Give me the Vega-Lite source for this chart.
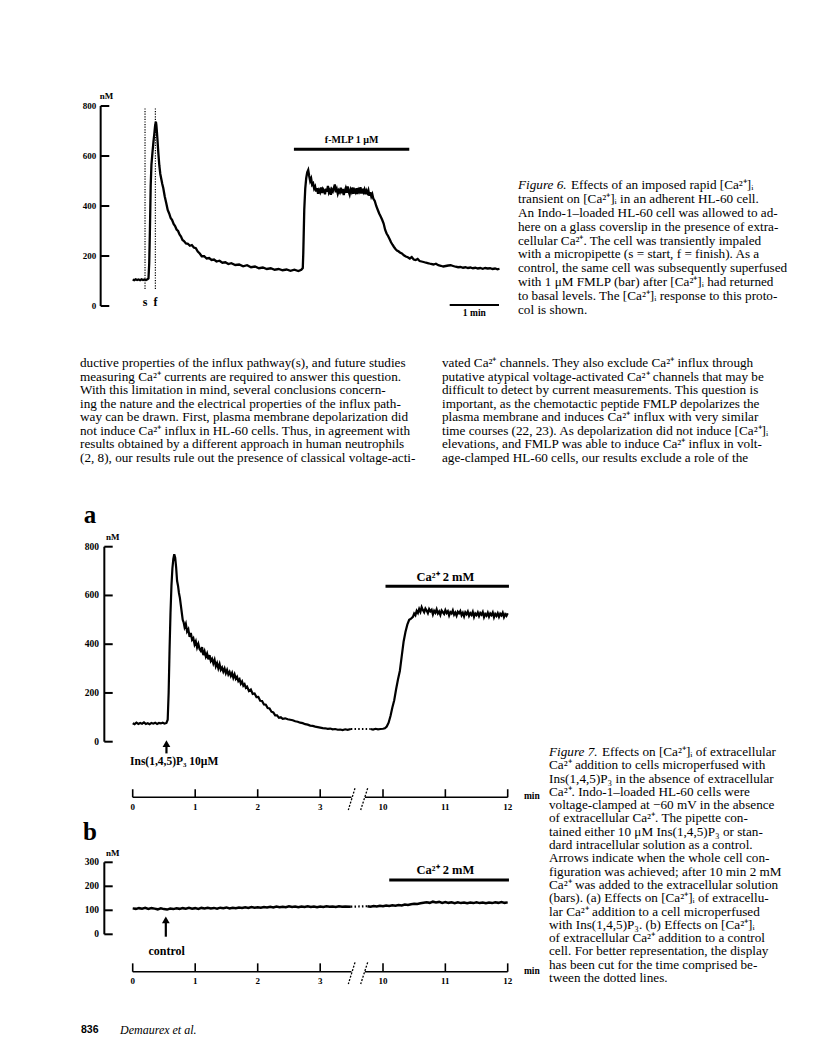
{
"$schema":"https://vega.github.io/schema/vega-lite/v6.json",
"width":816,"height":1057,
"autosize":{"type":"fit","contains":"padding"},
"padding":0,
"background":"white",
"config":{"view":{"stroke":null},"text":{"font":"Liberation Serif","color":"black"},"rule":{"color":"black"},"line":{"color":"black"},"point":{"color":"black"}},
"datasets":{
"one":[{}],
"fig6":[{"t":0,"v":106},{"t":0.03,"v":103},{"t":0.06,"v":107},{"t":0.09,"v":104},{"t":0.12,"v":106},{"t":0.15,"v":103},{"t":0.18,"v":107},{"t":0.21,"v":104},{"t":0.24,"v":106},{"t":0.27,"v":104},{"t":0.3,"v":107},{"t":0.32,"v":110},{"t":0.335,"v":170},{"t":0.35,"v":310},{"t":0.365,"v":480},{"t":0.38,"v":565},{"t":0.4,"v":612},{"t":0.42,"v":655},{"t":0.44,"v":692},{"t":0.455,"v":722},{"t":0.47,"v":737},{"t":0.48,"v":724},{"t":0.49,"v":700},{"t":0.5,"v":672},{"t":0.52,"v":612},{"t":0.54,"v":562},{"t":0.56,"v":528},{"t":0.58,"v":508},{"t":0.6,"v":488},{"t":0.62,"v":472},{"t":0.65,"v":438},{"t":0.68,"v":412},{"t":0.71,"v":384},{"t":0.74,"v":370},{"t":0.77,"v":352},{"t":0.8,"v":344},{"t":0.83,"v":328},{"t":0.86,"v":320},{"t":0.89,"v":306},{"t":0.92,"v":300},{"t":0.95,"v":286},{"t":0.98,"v":278},{"t":1.01,"v":264},{"t":1.04,"v":260},{"t":1.08,"v":250},{"t":1.12,"v":249},{"t":1.16,"v":241},{"t":1.2,"v":244},{"t":1.24,"v":234},{"t":1.28,"v":231},{"t":1.32,"v":218},{"t":1.36,"v":210},{"t":1.4,"v":199},{"t":1.45,"v":199},{"t":1.5,"v":190},{"t":1.55,"v":192},{"t":1.6,"v":184},{"t":1.65,"v":186},{"t":1.7,"v":178},{"t":1.76,"v":181},{"t":1.82,"v":173},{"t":1.88,"v":175},{"t":1.94,"v":168},{"t":2,"v":171},{"t":2.08,"v":164},{"t":2.16,"v":166},{"t":2.24,"v":159},{"t":2.32,"v":163},{"t":2.4,"v":155},{"t":2.48,"v":158},{"t":2.56,"v":151},{"t":2.64,"v":154},{"t":2.72,"v":148},{"t":2.8,"v":151},{"t":2.88,"v":145},{"t":2.96,"v":148},{"t":3.04,"v":143},{"t":3.12,"v":146},{"t":3.2,"v":141},{"t":3.28,"v":145},{"t":3.36,"v":140},{"t":3.42,"v":145},{"t":3.45,"v":152},{"t":3.46,"v":210},{"t":3.48,"v":385},{"t":3.5,"v":470},{"t":3.52,"v":512},{"t":3.54,"v":535},{"t":3.56,"v":544},{"t":3.58,"v":520},{"t":3.6,"v":500},{"t":3.62,"v":510},{"t":3.64,"v":485},{"t":3.66,"v":490},{"t":3.68,"v":470},{"t":3.7,"v":478},{"t":3.72,"v":458},{"t":3.74,"v":471},{"t":3.76,"v":449},{"t":3.78,"v":463},{"t":3.8,"v":455},{"t":3.82,"v":474},{"t":3.84,"v":452},{"t":3.86,"v":468},{"t":3.88,"v":461},{"t":3.9,"v":447},{"t":3.92,"v":469},{"t":3.94,"v":457},{"t":3.96,"v":480},{"t":3.98,"v":454},{"t":4,"v":463},{"t":4.02,"v":445},{"t":4.04,"v":466},{"t":4.06,"v":459},{"t":4.08,"v":472},{"t":4.1,"v":486},{"t":4.12,"v":455},{"t":4.14,"v":467},{"t":4.16,"v":449},{"t":4.18,"v":462},{"t":4.2,"v":455},{"t":4.22,"v":473},{"t":4.24,"v":451},{"t":4.26,"v":468},{"t":4.28,"v":444},{"t":4.3,"v":460},{"t":4.32,"v":471},{"t":4.34,"v":453},{"t":4.36,"v":478},{"t":4.38,"v":458},{"t":4.4,"v":446},{"t":4.42,"v":466},{"t":4.44,"v":457},{"t":4.46,"v":474},{"t":4.48,"v":449},{"t":4.5,"v":463},{"t":4.52,"v":455},{"t":4.54,"v":471},{"t":4.56,"v":448},{"t":4.58,"v":465},{"t":4.6,"v":458},{"t":4.62,"v":475},{"t":4.64,"v":450},{"t":4.66,"v":469},{"t":4.68,"v":456},{"t":4.7,"v":466},{"t":4.72,"v":447},{"t":4.74,"v":461},{"t":4.76,"v":452},{"t":4.78,"v":463},{"t":4.8,"v":441},{"t":4.82,"v":455},{"t":4.84,"v":438},{"t":4.86,"v":447},{"t":4.88,"v":430},{"t":4.91,"v":420},{"t":4.94,"v":400},{"t":4.97,"v":385},{"t":5,"v":370},{"t":5.03,"v":358},{"t":5.06,"v":345},{"t":5.09,"v":330},{"t":5.12,"v":305},{"t":5.15,"v":290},{"t":5.18,"v":280},{"t":5.21,"v":268},{"t":5.24,"v":255},{"t":5.27,"v":245},{"t":5.3,"v":236},{"t":5.33,"v":228},{"t":5.36,"v":222},{"t":5.39,"v":219},{"t":5.42,"v":214},{"t":5.46,"v":210},{"t":5.5,"v":203},{"t":5.54,"v":198},{"t":5.58,"v":195},{"t":5.62,"v":190},{"t":5.66,"v":196},{"t":5.7,"v":186},{"t":5.74,"v":184},{"t":5.78,"v":188},{"t":5.82,"v":180},{"t":5.86,"v":178},{"t":5.9,"v":176},{"t":5.95,"v":173},{"t":6,"v":171},{"t":6.05,"v":168},{"t":6.1,"v":166},{"t":6.15,"v":169},{"t":6.2,"v":163},{"t":6.25,"v":161},{"t":6.3,"v":158},{"t":6.35,"v":160},{"t":6.4,"v":162},{"t":6.45,"v":163},{"t":6.5,"v":160},{"t":6.55,"v":157},{"t":6.6,"v":155},{"t":6.65,"v":156},{"t":6.7,"v":153},{"t":6.75,"v":155},{"t":6.8,"v":152},{"t":6.85,"v":154},{"t":6.9,"v":151},{"t":6.95,"v":153},{"t":7,"v":150},{"t":7.05,"v":152},{"t":7.1,"v":149},{"t":7.15,"v":152},{"t":7.2,"v":150},{"t":7.25,"v":151},{"t":7.3,"v":148},{"t":7.35,"v":150},{"t":7.4,"v":147},{"t":7.44,"v":149}],
"fig6ticks":[{"v":0},{"v":200},{"v":400},{"v":600},{"v":800}],
"fig6marks":[{"t":0.25,"label":"s"},{"t":0.46,"label":"f"}],
"fig6bar":[{"t0":3.27,"t1":5.61,"v":627,"label":"f-MLP 1 µM"}],
"fig7a":[{"seg":1,"t":0,"v":76},{"seg":1,"t":0.03,"v":72},{"seg":1,"t":0.06,"v":78},{"seg":1,"t":0.09,"v":73},{"seg":1,"t":0.12,"v":77},{"seg":1,"t":0.15,"v":74},{"seg":1,"t":0.18,"v":79},{"seg":1,"t":0.21,"v":73},{"seg":1,"t":0.24,"v":76},{"seg":1,"t":0.27,"v":72},{"seg":1,"t":0.3,"v":77},{"seg":1,"t":0.33,"v":74},{"seg":1,"t":0.36,"v":78},{"seg":1,"t":0.39,"v":73},{"seg":1,"t":0.42,"v":77},{"seg":1,"t":0.45,"v":75},{"seg":1,"t":0.48,"v":78},{"seg":1,"t":0.51,"v":74},{"seg":1,"t":0.54,"v":77},{"seg":1,"t":0.56,"v":90},{"seg":1,"t":0.575,"v":200},{"seg":1,"t":0.59,"v":380},{"seg":1,"t":0.605,"v":530},{"seg":1,"t":0.62,"v":640},{"seg":1,"t":0.635,"v":710},{"seg":1,"t":0.65,"v":750},{"seg":1,"t":0.665,"v":769},{"seg":1,"t":0.68,"v":755},{"seg":1,"t":0.695,"v":715},{"seg":1,"t":0.71,"v":660},{"seg":1,"t":0.725,"v":640},{"seg":1,"t":0.74,"v":610},{"seg":1,"t":0.755,"v":590},{"seg":1,"t":0.77,"v":560},{"seg":1,"t":0.785,"v":530},{"seg":1,"t":0.8,"v":500},{"seg":1,"t":0.815,"v":490},{"seg":1,"t":0.83,"v":470},{"seg":1,"t":0.85,"v":484},{"seg":1,"t":0.87,"v":452},{"seg":1,"t":0.89,"v":461},{"seg":1,"t":0.91,"v":430},{"seg":1,"t":0.93,"v":446},{"seg":1,"t":0.95,"v":418},{"seg":1,"t":0.97,"v":425},{"seg":1,"t":0.99,"v":399},{"seg":1,"t":1.01,"v":412},{"seg":1,"t":1.03,"v":386},{"seg":1,"t":1.05,"v":401},{"seg":1,"t":1.07,"v":380},{"seg":1,"t":1.09,"v":372},{"seg":1,"t":1.11,"v":388},{"seg":1,"t":1.13,"v":355},{"seg":1,"t":1.15,"v":371},{"seg":1,"t":1.17,"v":349},{"seg":1,"t":1.19,"v":362},{"seg":1,"t":1.21,"v":338},{"seg":1,"t":1.23,"v":355},{"seg":1,"t":1.25,"v":331},{"seg":1,"t":1.27,"v":340},{"seg":1,"t":1.29,"v":321},{"seg":1,"t":1.31,"v":336},{"seg":1,"t":1.33,"v":309},{"seg":1,"t":1.35,"v":322},{"seg":1,"t":1.37,"v":301},{"seg":1,"t":1.39,"v":318},{"seg":1,"t":1.41,"v":295},{"seg":1,"t":1.43,"v":304},{"seg":1,"t":1.45,"v":287},{"seg":1,"t":1.47,"v":300},{"seg":1,"t":1.49,"v":281},{"seg":1,"t":1.51,"v":294},{"seg":1,"t":1.53,"v":276},{"seg":1,"t":1.55,"v":286},{"seg":1,"t":1.57,"v":270},{"seg":1,"t":1.59,"v":282},{"seg":1,"t":1.61,"v":262},{"seg":1,"t":1.63,"v":276},{"seg":1,"t":1.65,"v":258},{"seg":1,"t":1.67,"v":266},{"seg":1,"t":1.69,"v":249},{"seg":1,"t":1.71,"v":256},{"seg":1,"t":1.73,"v":238},{"seg":1,"t":1.75,"v":247},{"seg":1,"t":1.77,"v":230},{"seg":1,"t":1.79,"v":236},{"seg":1,"t":1.81,"v":221},{"seg":1,"t":1.83,"v":226},{"seg":1,"t":1.86,"v":208},{"seg":1,"t":1.89,"v":214},{"seg":1,"t":1.92,"v":196},{"seg":1,"t":1.95,"v":198},{"seg":1,"t":1.98,"v":183},{"seg":1,"t":2.01,"v":184},{"seg":1,"t":2.04,"v":168},{"seg":1,"t":2.07,"v":167},{"seg":1,"t":2.1,"v":153},{"seg":1,"t":2.13,"v":152},{"seg":1,"t":2.16,"v":138},{"seg":1,"t":2.19,"v":136},{"seg":1,"t":2.22,"v":123},{"seg":1,"t":2.25,"v":120},{"seg":1,"t":2.28,"v":108},{"seg":1,"t":2.31,"v":108},{"seg":1,"t":2.34,"v":98},{"seg":1,"t":2.37,"v":100},{"seg":1,"t":2.4,"v":94},{"seg":1,"t":2.44,"v":96},{"seg":1,"t":2.48,"v":92},{"seg":1,"t":2.52,"v":90},{"seg":1,"t":2.56,"v":88},{"seg":1,"t":2.6,"v":84},{"seg":1,"t":2.64,"v":82},{"seg":1,"t":2.68,"v":78},{"seg":1,"t":2.72,"v":76},{"seg":1,"t":2.76,"v":72},{"seg":1,"t":2.8,"v":70},{"seg":1,"t":2.84,"v":66},{"seg":1,"t":2.88,"v":65},{"seg":1,"t":2.92,"v":62},{"seg":1,"t":2.96,"v":60},{"seg":1,"t":3,"v":58},{"seg":1,"t":3.04,"v":56},{"seg":1,"t":3.08,"v":55},{"seg":1,"t":3.12,"v":53},{"seg":1,"t":3.16,"v":54},{"seg":1,"t":3.2,"v":51},{"seg":1,"t":3.24,"v":52},{"seg":1,"t":3.28,"v":49},{"seg":1,"t":3.32,"v":50},{"seg":1,"t":3.36,"v":48},{"seg":1,"t":3.4,"v":51},{"seg":1,"t":3.44,"v":49},{"seg":1,"t":3.49,"v":52},
{"seg":2,"t":9.8,"v":52},{"seg":2,"t":9.84,"v":50},{"seg":2,"t":9.88,"v":53},{"seg":2,"t":9.92,"v":51},{"seg":2,"t":9.96,"v":52},{"seg":2,"t":10,"v":53},{"seg":2,"t":10.03,"v":55},{"seg":2,"t":10.06,"v":62},{"seg":2,"t":10.09,"v":78},{"seg":2,"t":10.12,"v":105},{"seg":2,"t":10.15,"v":140},{"seg":2,"t":10.18,"v":170},{"seg":2,"t":10.21,"v":215},{"seg":2,"t":10.24,"v":255},{"seg":2,"t":10.27,"v":290},{"seg":2,"t":10.3,"v":350},{"seg":2,"t":10.33,"v":410},{"seg":2,"t":10.36,"v":450},{"seg":2,"t":10.39,"v":480},{"seg":2,"t":10.42,"v":500},{"seg":2,"t":10.45,"v":505},{"seg":2,"t":10.48,"v":512},{"seg":2,"t":10.5,"v":526},{"seg":2,"t":10.52,"v":519},{"seg":2,"t":10.54,"v":537},{"seg":2,"t":10.56,"v":528},{"seg":2,"t":10.58,"v":545},{"seg":2,"t":10.6,"v":533},{"seg":2,"t":10.62,"v":552},{"seg":2,"t":10.64,"v":540},{"seg":2,"t":10.66,"v":531},{"seg":2,"t":10.68,"v":546},{"seg":2,"t":10.7,"v":538},{"seg":2,"t":10.72,"v":527},{"seg":2,"t":10.74,"v":544},{"seg":2,"t":10.76,"v":535},{"seg":2,"t":10.78,"v":541},{"seg":2,"t":10.8,"v":522},{"seg":2,"t":10.82,"v":537},{"seg":2,"t":10.84,"v":529},{"seg":2,"t":10.86,"v":543},{"seg":2,"t":10.88,"v":526},{"seg":2,"t":10.9,"v":534},{"seg":2,"t":10.92,"v":520},{"seg":2,"t":10.94,"v":538},{"seg":2,"t":10.96,"v":531},{"seg":2,"t":10.98,"v":524},{"seg":2,"t":11,"v":540},{"seg":2,"t":11.02,"v":528},{"seg":2,"t":11.04,"v":535},{"seg":2,"t":11.06,"v":518},{"seg":2,"t":11.08,"v":532},{"seg":2,"t":11.1,"v":526},{"seg":2,"t":11.12,"v":539},{"seg":2,"t":11.14,"v":521},{"seg":2,"t":11.16,"v":530},{"seg":2,"t":11.18,"v":517},{"seg":2,"t":11.2,"v":533},{"seg":2,"t":11.22,"v":527},{"seg":2,"t":11.24,"v":536},{"seg":2,"t":11.26,"v":519},{"seg":2,"t":11.28,"v":529},{"seg":2,"t":11.3,"v":514},{"seg":2,"t":11.32,"v":531},{"seg":2,"t":11.34,"v":523},{"seg":2,"t":11.36,"v":534},{"seg":2,"t":11.38,"v":516},{"seg":2,"t":11.4,"v":527},{"seg":2,"t":11.42,"v":520},{"seg":2,"t":11.44,"v":533},{"seg":2,"t":11.46,"v":512},{"seg":2,"t":11.48,"v":526},{"seg":2,"t":11.5,"v":519},{"seg":2,"t":11.52,"v":530},{"seg":2,"t":11.54,"v":515},{"seg":2,"t":11.56,"v":528},{"seg":2,"t":11.58,"v":521},{"seg":2,"t":11.6,"v":532},{"seg":2,"t":11.62,"v":511},{"seg":2,"t":11.64,"v":524},{"seg":2,"t":11.66,"v":517},{"seg":2,"t":11.68,"v":529},{"seg":2,"t":11.7,"v":513},{"seg":2,"t":11.72,"v":526},{"seg":2,"t":11.74,"v":519},{"seg":2,"t":11.76,"v":530},{"seg":2,"t":11.78,"v":510},{"seg":2,"t":11.8,"v":524},{"seg":2,"t":11.82,"v":516},{"seg":2,"t":11.84,"v":527},{"seg":2,"t":11.86,"v":512},{"seg":2,"t":11.88,"v":525},{"seg":2,"t":11.9,"v":518},{"seg":2,"t":11.92,"v":529},{"seg":2,"t":11.94,"v":511},{"seg":2,"t":11.96,"v":523},{"seg":2,"t":11.98,"v":516},{"seg":2,"t":12,"v":527}],
"fig7acut":[{"t":3.49,"v":52},{"t":9.8,"v":52}],
"fig7aticks":[{"v":0},{"v":200},{"v":400},{"v":600},{"v":800}],
"fig7xticks":[{"t":0},{"t":1},{"t":2},{"t":3},{"t":10},{"t":11},{"t":12}],
"fig7xseg":[{"t0":0,"t1":3.5},{"t0":9.71,"t1":12}],
"fig7b":[{"seg":1,"t":0,"v":108},{"seg":1,"t":0.05,"v":106},{"seg":1,"t":0.1,"v":109},{"seg":1,"t":0.15,"v":107},{"seg":1,"t":0.2,"v":110},{"seg":1,"t":0.25,"v":106},{"seg":1,"t":0.3,"v":109},{"seg":1,"t":0.35,"v":107},{"seg":1,"t":0.4,"v":104},{"seg":1,"t":0.45,"v":108},{"seg":1,"t":0.5,"v":105},{"seg":1,"t":0.55,"v":103},{"seg":1,"t":0.6,"v":107},{"seg":1,"t":0.65,"v":105},{"seg":1,"t":0.7,"v":108},{"seg":1,"t":0.75,"v":106},{"seg":1,"t":0.8,"v":109},{"seg":1,"t":0.85,"v":107},{"seg":1,"t":0.9,"v":110},{"seg":1,"t":0.95,"v":107},{"seg":1,"t":1,"v":109},{"seg":1,"t":1.05,"v":106},{"seg":1,"t":1.1,"v":110},{"seg":1,"t":1.15,"v":108},{"seg":1,"t":1.2,"v":111},{"seg":1,"t":1.25,"v":108},{"seg":1,"t":1.3,"v":110},{"seg":1,"t":1.35,"v":107},{"seg":1,"t":1.4,"v":111},{"seg":1,"t":1.45,"v":109},{"seg":1,"t":1.5,"v":112},{"seg":1,"t":1.55,"v":108},{"seg":1,"t":1.6,"v":111},{"seg":1,"t":1.65,"v":109},{"seg":1,"t":1.7,"v":112},{"seg":1,"t":1.75,"v":110},{"seg":1,"t":1.8,"v":113},{"seg":1,"t":1.85,"v":110},{"seg":1,"t":1.9,"v":114},{"seg":1,"t":1.95,"v":111},{"seg":1,"t":2,"v":113},{"seg":1,"t":2.05,"v":111},{"seg":1,"t":2.1,"v":114},{"seg":1,"t":2.15,"v":112},{"seg":1,"t":2.2,"v":115},{"seg":1,"t":2.25,"v":112},{"seg":1,"t":2.3,"v":116},{"seg":1,"t":2.35,"v":113},{"seg":1,"t":2.4,"v":115},{"seg":1,"t":2.45,"v":113},{"seg":1,"t":2.5,"v":117},{"seg":1,"t":2.55,"v":114},{"seg":1,"t":2.6,"v":116},{"seg":1,"t":2.65,"v":113},{"seg":1,"t":2.7,"v":116},{"seg":1,"t":2.75,"v":114},{"seg":1,"t":2.8,"v":117},{"seg":1,"t":2.85,"v":114},{"seg":1,"t":2.9,"v":116},{"seg":1,"t":2.95,"v":113},{"seg":1,"t":3,"v":116},{"seg":1,"t":3.05,"v":114},{"seg":1,"t":3.1,"v":117},{"seg":1,"t":3.15,"v":115},{"seg":1,"t":3.2,"v":116},{"seg":1,"t":3.25,"v":114},{"seg":1,"t":3.3,"v":117},{"seg":1,"t":3.35,"v":115},{"seg":1,"t":3.4,"v":116},{"seg":1,"t":3.49,"v":115},
{"seg":2,"t":9.75,"v":117},{"seg":2,"t":9.8,"v":115},{"seg":2,"t":9.85,"v":118},{"seg":2,"t":9.9,"v":116},{"seg":2,"t":9.95,"v":119},{"seg":2,"t":10,"v":117},{"seg":2,"t":10.05,"v":120},{"seg":2,"t":10.1,"v":118},{"seg":2,"t":10.15,"v":121},{"seg":2,"t":10.2,"v":119},{"seg":2,"t":10.25,"v":122},{"seg":2,"t":10.3,"v":120},{"seg":2,"t":10.35,"v":124},{"seg":2,"t":10.4,"v":122},{"seg":2,"t":10.45,"v":125},{"seg":2,"t":10.5,"v":127},{"seg":2,"t":10.55,"v":126},{"seg":2,"t":10.6,"v":129},{"seg":2,"t":10.65,"v":131},{"seg":2,"t":10.7,"v":133},{"seg":2,"t":10.75,"v":131},{"seg":2,"t":10.8,"v":136},{"seg":2,"t":10.85,"v":133},{"seg":2,"t":10.9,"v":135},{"seg":2,"t":10.95,"v":131},{"seg":2,"t":11,"v":134},{"seg":2,"t":11.05,"v":131},{"seg":2,"t":11.1,"v":133},{"seg":2,"t":11.15,"v":130},{"seg":2,"t":11.2,"v":133},{"seg":2,"t":11.25,"v":130},{"seg":2,"t":11.3,"v":132},{"seg":2,"t":11.35,"v":129},{"seg":2,"t":11.4,"v":132},{"seg":2,"t":11.45,"v":130},{"seg":2,"t":11.5,"v":133},{"seg":2,"t":11.55,"v":130},{"seg":2,"t":11.6,"v":132},{"seg":2,"t":11.65,"v":129},{"seg":2,"t":11.7,"v":132},{"seg":2,"t":11.75,"v":130},{"seg":2,"t":11.8,"v":133},{"seg":2,"t":11.85,"v":131},{"seg":2,"t":11.9,"v":134},{"seg":2,"t":11.95,"v":131},{"seg":2,"t":12,"v":133}],
"fig7bcut":[{"t":3.49,"v":115},{"t":9.75,"v":117}],
"fig7bticks":[{"v":0},{"v":100},{"v":200},{"v":300}],
"cap6":[
{"col":0,"line":2,"text":"transient on [Ca²⁺]ᵢ in an adherent HL-60 cell."},
{"col":0,"line":3,"text":"An Indo-1–loaded HL-60 cell was allowed to ad-"},
{"col":0,"line":4,"text":"here on a glass coverslip in the presence of extra-"},
{"col":0,"line":5,"text":"cellular Ca²⁺. The cell was transiently impaled"},
{"col":0,"line":6,"text":"with a micropipette (s = start, f = finish). As a"},
{"col":0,"line":7,"text":"control, the same cell was subsequently superfused"},
{"col":0,"line":8,"text":"with 1 μM FMLP (bar) after [Ca²⁺]ᵢ had returned"},
{"col":0,"line":9,"text":"to basal levels. The [Ca²⁺]ᵢ response to this proto-"},
{"col":0,"line":10,"text":"col is shown."}],
"cap6first":[{"col":0,"line":1,"lead":"Figure 6.","text":"Effects of an imposed rapid [Ca²⁺]ᵢ"}],
"body":[
{"col":0,"line":1,"text":"ductive properties of the influx pathway(s), and future studies"},
{"col":0,"line":2,"text":"measuring Ca²⁺ currents are required to answer this question."},
{"col":0,"line":3,"text":"\u00a0\u00a0\u00a0\u00a0\u00a0With this limitation in mind, several conclusions concern-"},
{"col":0,"line":4,"text":"ing the nature and the electrical properties of the influx path-"},
{"col":0,"line":5,"text":"way can be drawn. First, plasma membrane depolarization did"},
{"col":0,"line":6,"text":"not induce Ca²⁺ influx in HL-60 cells. Thus, in agreement with"},
{"col":0,"line":7,"text":"results obtained by a different approach in human neutrophils"},
{"col":0,"line":8,"text":"(2, 8), our results rule out the presence of classical voltage-acti-"},
{"col":1,"line":1,"text":"vated Ca²⁺ channels. They also exclude Ca²⁺ influx through"},
{"col":1,"line":2,"text":"putative atypical voltage-activated Ca²⁺ channels that may be"},
{"col":1,"line":3,"text":"difficult to detect by current measurements. This question is"},
{"col":1,"line":4,"text":"important, as the chemotactic peptide FMLP depolarizes the"},
{"col":1,"line":5,"text":"plasma membrane and induces Ca²⁺ influx with very similar"},
{"col":1,"line":6,"text":"time courses (22, 23). As depolarization did not induce [Ca²⁺]ᵢ"},
{"col":1,"line":7,"text":"elevations, and FMLP was able to induce Ca²⁺ influx in volt-"},
{"col":1,"line":8,"text":"age-clamped HL-60 cells, our results exclude a role of the"}],
"cap7":[
{"col":0,"line":2,"text":"Ca²⁺ addition to cells microperfused with"},
{"col":0,"line":3,"text":"Ins(1,4,5)P₃ in the absence of extracellular"},
{"col":0,"line":4,"text":"Ca²⁺. Indo-1–loaded HL-60 cells were"},
{"col":0,"line":5,"text":"voltage-clamped at −60 mV in the absence"},
{"col":0,"line":6,"text":"of extracellular Ca²⁺. The pipette con-"},
{"col":0,"line":7,"text":"tained either 10 μM Ins(1,4,5)P₃ or stan-"},
{"col":0,"line":8,"text":"dard intracellular solution as a control."},
{"col":0,"line":9,"text":"Arrows indicate when the whole cell con-"},
{"col":0,"line":10,"text":"figuration was achieved; after 10 min 2 mM"},
{"col":0,"line":11,"text":"Ca²⁺ was added to the extracellular solution"},
{"col":0,"line":12,"text":"(bars). (a) Effects on [Ca²⁺]ᵢ of extracellu-"},
{"col":0,"line":13,"text":"lar Ca²⁺ addition to a cell microperfused"},
{"col":0,"line":14,"text":"with Ins(1,4,5)P₃. (b) Effects on [Ca²⁺]ᵢ"},
{"col":0,"line":15,"text":"of extracellular Ca²⁺ addition to a control"},
{"col":0,"line":16,"text":"cell. For better representation, the display"},
{"col":0,"line":17,"text":"has been cut for the time comprised be-"},
{"col":0,"line":18,"text":"tween the dotted lines."}],
"cap7first":[{"col":0,"line":1,"lead":"Figure 7.","text":"Effects on [Ca²⁺]ᵢ of extracellular"}],
"footer":[{"col":0,"line":1,"page":"836","author":"Demaurex et al."}]
},
"layer":[
{"data":{"name":"one"},
 "layer":[
  {"data":{"name":"fig6"},"mark":{"type":"line","strokeWidth":2.3},
   "encoding":{"x":{"field":"t","type":"quantitative","scale":{"domain":[0,8],"range":[132.7,527.1],"nice":false,"zero":false},"axis":null},
               "y":{"field":"v","type":"quantitative","scale":{"domain":[0,800],"range":[306,106],"nice":false,"zero":false},"axis":null}}},
  {"data":{"name":"fig6marks"},"mark":{"type":"rule","strokeWidth":1.2,"strokeDash":[1.2,1.4]},
   "encoding":{"x":{"field":"t","type":"quantitative","scale":{"domain":[0,8],"range":[132.7,527.1],"nice":false,"zero":false},"axis":null},
               "y":{"datum":68,"type":"quantitative","scale":{"domain":[0,800],"range":[306,106],"nice":false,"zero":false},"axis":null},"y2":{"datum":792}}},
  {"data":{"name":"fig6marks"},"mark":{"type":"text","fontSize":12,"fontWeight":"bold","baseline":"middle","align":"center"},
   "encoding":{"x":{"field":"t","type":"quantitative","scale":{"domain":[0,8],"range":[132.7,527.1],"nice":false,"zero":false},"axis":null},
               "y":{"datum":17,"type":"quantitative","scale":{"domain":[0,800],"range":[306,106],"nice":false,"zero":false},"axis":null},"text":{"field":"label"}}},
  {"data":{"name":"fig6ticks"},"mark":{"type":"rule","strokeWidth":2},
   "encoding":{"x":{"datum":-0.65,"type":"quantitative","scale":{"domain":[0,8],"range":[132.7,527.1],"nice":false,"zero":false},"axis":null},"x2":{"datum":-0.475},
               "y":{"field":"v","type":"quantitative","scale":{"domain":[0,800],"range":[306,106],"nice":false,"zero":false},"axis":null}}},
  {"mark":{"type":"rule","strokeWidth":2},
   "encoding":{"x":{"datum":-0.65,"type":"quantitative","scale":{"domain":[0,8],"range":[132.7,527.1],"nice":false,"zero":false},"axis":null},
               "y":{"datum":0,"type":"quantitative","scale":{"domain":[0,800],"range":[306,106],"nice":false,"zero":false},"axis":null},"y2":{"datum":800}}},
  {"data":{"name":"fig6ticks"},"mark":{"type":"text","fontSize":9,"fontWeight":"bold","align":"right","baseline":"middle"},
   "encoding":{"x":{"datum":-0.74,"type":"quantitative","scale":{"domain":[0,8],"range":[132.7,527.1],"nice":false,"zero":false},"axis":null},
               "y":{"field":"v","type":"quantitative","scale":{"domain":[0,800],"range":[306,106],"nice":false,"zero":false},"axis":null},"text":{"field":"v","type":"quantitative"}}},
  {"mark":{"type":"text","text":"nM","fontSize":9,"fontWeight":"bold","align":"center","baseline":"middle"},
   "encoding":{"x":{"datum":-0.53,"type":"quantitative","scale":{"domain":[0,8],"range":[132.7,527.1],"nice":false,"zero":false},"axis":null},
               "y":{"datum":841,"type":"quantitative","scale":{"domain":[0,800],"range":[306,106],"nice":false,"zero":false},"axis":null}}},
  {"data":{"name":"fig6bar"},"mark":{"type":"rule","strokeWidth":3},
   "encoding":{"x":{"field":"t0","type":"quantitative","scale":{"domain":[0,8],"range":[132.7,527.1],"nice":false,"zero":false},"axis":null},"x2":{"field":"t1"},
               "y":{"field":"v","type":"quantitative","scale":{"domain":[0,800],"range":[306,106],"nice":false,"zero":false},"axis":null}}},
  {"data":{"name":"fig6bar"},"mark":{"type":"text","fontSize":10,"fontWeight":"bold","align":"center","baseline":"middle"},
   "encoding":{"x":{"datum":4.44,"type":"quantitative","scale":{"domain":[0,8],"range":[132.7,527.1],"nice":false,"zero":false},"axis":null},
               "y":{"datum":664,"type":"quantitative","scale":{"domain":[0,800],"range":[306,106],"nice":false,"zero":false},"axis":null},"text":{"field":"label"}}},
  {"mark":{"type":"rule","strokeWidth":2},
   "encoding":{"x":{"datum":6.43,"type":"quantitative","scale":{"domain":[0,8],"range":[132.7,527.1],"nice":false,"zero":false},"axis":null},"x2":{"datum":7.43},
               "y":{"datum":4,"type":"quantitative","scale":{"domain":[0,800],"range":[306,106],"nice":false,"zero":false},"axis":null}}},
  {"mark":{"type":"text","text":"1 min","fontSize":9.5,"fontWeight":"bold","align":"center","baseline":"middle"},
   "encoding":{"x":{"datum":6.93,"type":"quantitative","scale":{"domain":[0,8],"range":[132.7,527.1],"nice":false,"zero":false},"axis":null},
               "y":{"datum":-28,"type":"quantitative","scale":{"domain":[0,800],"range":[306,106],"nice":false,"zero":false},"axis":null}}}
 ]},
{"layer":[
  {"data":{"name":"cap6"},"mark":{"type":"text","fontSize":13.2,"align":"left","baseline":"middle"},
   "encoding":{"x":{"field":"col","type":"quantitative","scale":{"domain":[0,1],"range":[518,818],"nice":false,"zero":false},"axis":null},
               "y":{"field":"line","type":"quantitative","scale":{"domain":[1,10],"range":[185,310],"nice":false,"zero":false},"axis":null},"text":{"field":"text"}}},
  {"data":{"name":"cap6first"},"mark":{"type":"text","fontSize":13.2,"align":"left","baseline":"middle","dx":53},
   "encoding":{"x":{"field":"col","type":"quantitative","scale":{"domain":[0,1],"range":[518,818],"nice":false,"zero":false},"axis":null},
               "y":{"field":"line","type":"quantitative","scale":{"domain":[1,10],"range":[185,310],"nice":false,"zero":false},"axis":null},"text":{"field":"text"}}},
  {"data":{"name":"cap6first"},"mark":{"type":"text","fontSize":13.2,"align":"left","baseline":"middle","fontStyle":"italic"},
   "encoding":{"x":{"field":"col","type":"quantitative","scale":{"domain":[0,1],"range":[518,818],"nice":false,"zero":false},"axis":null},
               "y":{"field":"line","type":"quantitative","scale":{"domain":[1,10],"range":[185,310],"nice":false,"zero":false},"axis":null},"text":{"field":"lead"}}}
 ]},
{"data":{"name":"body"},"mark":{"type":"text","fontSize":13.2,"align":"left","baseline":"middle"},
 "encoding":{"x":{"field":"col","type":"quantitative","scale":{"domain":[0,1],"range":[80,442],"nice":false,"zero":false},"axis":null},
             "y":{"field":"line","type":"quantitative","scale":{"domain":[1,8],"range":[363,458],"nice":false,"zero":false},"axis":null},"text":{"field":"text"}}},
{"data":{"name":"one"},
 "layer":[
  {"data":{"name":"fig7a"},"mark":{"type":"line","strokeWidth":2.2},
   "encoding":{"x":{"field":"t","type":"quantitative","scale":{"domain":[0,3.5,9.7,12],"range":[132.7,351.45,364.3,507.7],"nice":false,"zero":false},"axis":null},
               "y":{"field":"v","type":"quantitative","scale":{"domain":[0,800],"range":[741.7,546.7],"nice":false,"zero":false},"axis":null},"detail":{"field":"seg"}}},
  {"data":{"name":"fig7acut"},"mark":{"type":"line","strokeWidth":2,"strokeDash":[1.5,2.2]},
   "encoding":{"x":{"field":"t","type":"quantitative","scale":{"domain":[0,3.5,9.7,12],"range":[132.7,351.45,364.3,507.7],"nice":false,"zero":false},"axis":null},
               "y":{"field":"v","type":"quantitative","scale":{"domain":[0,800],"range":[741.7,546.7],"nice":false,"zero":false},"axis":null}}},
  {"data":{"name":"fig7aticks"},"mark":{"type":"rule","strokeWidth":2},
   "encoding":{"x":{"datum":-0.454,"type":"quantitative","scale":{"domain":[0,3.5,9.7,12],"range":[132.7,351.45,364.3,507.7],"nice":false,"zero":false},"axis":null},"x2":{"datum":-0.32},
               "y":{"field":"v","type":"quantitative","scale":{"domain":[0,800],"range":[741.7,546.7],"nice":false,"zero":false},"axis":null}}},
  {"mark":{"type":"rule","strokeWidth":2},
   "encoding":{"x":{"datum":-0.454,"type":"quantitative","scale":{"domain":[0,3.5,9.7,12],"range":[132.7,351.45,364.3,507.7],"nice":false,"zero":false},"axis":null},
               "y":{"datum":0,"type":"quantitative","scale":{"domain":[0,800],"range":[741.7,546.7],"nice":false,"zero":false},"axis":null},"y2":{"datum":800}}},
  {"data":{"name":"fig7aticks"},"mark":{"type":"text","fontSize":9.5,"fontWeight":"bold","align":"right","baseline":"middle"},
   "encoding":{"x":{"datum":-0.54,"type":"quantitative","scale":{"domain":[0,3.5,9.7,12],"range":[132.7,351.45,364.3,507.7],"nice":false,"zero":false},"axis":null},
               "y":{"field":"v","type":"quantitative","scale":{"domain":[0,800],"range":[741.7,546.7],"nice":false,"zero":false},"axis":null},"text":{"field":"v","type":"quantitative"}}},
  {"mark":{"type":"text","text":"nM","fontSize":9,"fontWeight":"bold","align":"center","baseline":"middle"},
   "encoding":{"x":{"datum":-0.32,"type":"quantitative","scale":{"domain":[0,3.5,9.7,12],"range":[132.7,351.45,364.3,507.7],"nice":false,"zero":false},"axis":null},
               "y":{"datum":841,"type":"quantitative","scale":{"domain":[0,800],"range":[741.7,546.7],"nice":false,"zero":false},"axis":null}}},
  {"mark":{"type":"text","text":"a","fontSize":25,"fontWeight":"bold","align":"center","baseline":"middle"},
   "encoding":{"x":{"datum":-0.683,"type":"quantitative","scale":{"domain":[0,3.5,9.7,12],"range":[132.7,351.45,364.3,507.7],"nice":false,"zero":false},"axis":null},
               "y":{"datum":930,"type":"quantitative","scale":{"domain":[0,800],"range":[741.7,546.7],"nice":false,"zero":false},"axis":null}}},
  {"mark":{"type":"rule","strokeWidth":3},
   "encoding":{"x":{"datum":10.04,"type":"quantitative","scale":{"domain":[0,3.5,9.7,12],"range":[132.7,351.45,364.3,507.7],"nice":false,"zero":false},"axis":null},"x2":{"datum":12.02},
               "y":{"datum":638,"type":"quantitative","scale":{"domain":[0,800],"range":[741.7,546.7],"nice":false,"zero":false},"axis":null}}},
  {"mark":{"type":"text","text":"Ca²⁺ 2 mM","fontSize":12.5,"fontWeight":"bold","align":"center","baseline":"middle"},
   "encoding":{"x":{"datum":11.0,"type":"quantitative","scale":{"domain":[0,3.5,9.7,12],"range":[132.7,351.45,364.3,507.7],"nice":false,"zero":false},"axis":null},
               "y":{"datum":677,"type":"quantitative","scale":{"domain":[0,800],"range":[741.7,546.7],"nice":false,"zero":false},"axis":null}}},
  {"mark":{"type":"rule","strokeWidth":2.2},
   "encoding":{"x":{"datum":0.54,"type":"quantitative","scale":{"domain":[0,3.5,9.7,12],"range":[132.7,351.45,364.3,507.7],"nice":false,"zero":false},"axis":null},
               "y":{"datum":-8,"type":"quantitative","scale":{"domain":[0,800],"range":[741.7,546.7],"nice":false,"zero":false},"axis":null},"y2":{"datum":-48}}},
  {"mark":{"type":"point","shape":"triangle-up","filled":true,"size":60,"opacity":1},
   "encoding":{"x":{"datum":0.54,"type":"quantitative","scale":{"domain":[0,3.5,9.7,12],"range":[132.7,351.45,364.3,507.7],"nice":false,"zero":false},"axis":null},
               "y":{"datum":-8,"type":"quantitative","scale":{"domain":[0,800],"range":[741.7,546.7],"nice":false,"zero":false},"axis":null}}},
  {"mark":{"type":"text","text":"Ins(1,4,5)P₃ 10µM","fontSize":11.5,"fontWeight":"bold","align":"left","baseline":"middle"},
   "encoding":{"x":{"datum":-0.043,"type":"quantitative","scale":{"domain":[0,3.5,9.7,12],"range":[132.7,351.45,364.3,507.7],"nice":false,"zero":false},"axis":null},
               "y":{"datum":-82,"type":"quantitative","scale":{"domain":[0,800],"range":[741.7,546.7],"nice":false,"zero":false},"axis":null}}},
  {"data":{"name":"fig7xseg"},"mark":{"type":"rule","strokeWidth":1.6},
   "encoding":{"x":{"field":"t0","type":"quantitative","scale":{"domain":[0,3.5,9.7,12],"range":[132.7,351.45,364.3,507.7],"nice":false,"zero":false},"axis":null},"x2":{"field":"t1"},
               "y":{"datum":-228,"type":"quantitative","scale":{"domain":[0,800],"range":[741.7,546.7],"nice":false,"zero":false},"axis":null}}},
  {"data":{"name":"fig7xticks"},"mark":{"type":"rule","strokeWidth":1.6},
   "encoding":{"x":{"field":"t","type":"quantitative","scale":{"domain":[0,3.5,9.7,12],"range":[132.7,351.45,364.3,507.7],"nice":false,"zero":false},"axis":null},
               "y":{"datum":-228,"type":"quantitative","scale":{"domain":[0,800],"range":[741.7,546.7],"nice":false,"zero":false},"axis":null},"y2":{"datum":-195}}},
  {"data":{"name":"fig7xticks"},"mark":{"type":"text","fontSize":9,"fontWeight":"bold","align":"center","baseline":"middle"},
   "encoding":{"x":{"field":"t","type":"quantitative","scale":{"domain":[0,3.5,9.7,12],"range":[132.7,351.45,364.3,507.7],"nice":false,"zero":false},"axis":null},
               "y":{"datum":-266,"type":"quantitative","scale":{"domain":[0,800],"range":[741.7,546.7],"nice":false,"zero":false},"axis":null},"text":{"field":"t","type":"quantitative"}}},
  {"mark":{"type":"text","text":"min","fontSize":9.5,"fontWeight":"bold","align":"left","baseline":"middle"},
   "encoding":{"x":{"datum":12.26,"type":"quantitative","scale":{"domain":[0,3.5,9.7,12],"range":[132.7,351.45,364.3,507.7],"nice":false,"zero":false},"axis":null},
               "y":{"datum":-222,"type":"quantitative","scale":{"domain":[0,800],"range":[741.7,546.7],"nice":false,"zero":false},"axis":null}}},
  {"mark":{"type":"rule","strokeWidth":1.3,"strokeDash":[2,1.5]},
   "encoding":{"x":{"datum":5.21,"type":"quantitative","scale":{"domain":[0,3.5,9.7,12],"range":[132.7,351.45,364.3,507.7],"nice":false,"zero":false},"axis":null},"x2":{"datum":3.45},
               "y":{"datum":-191,"type":"quantitative","scale":{"domain":[0,800],"range":[741.7,546.7],"nice":false,"zero":false},"axis":null},"y2":{"datum":-280}}},
  {"mark":{"type":"rule","strokeWidth":1.3,"strokeDash":[2,1.5]},
   "encoding":{"x":{"datum":9.754,"type":"quantitative","scale":{"domain":[0,3.5,9.7,12],"range":[132.7,351.45,364.3,507.7],"nice":false,"zero":false},"axis":null},"x2":{"datum":7.96},
               "y":{"datum":-191,"type":"quantitative","scale":{"domain":[0,800],"range":[741.7,546.7],"nice":false,"zero":false},"axis":null},"y2":{"datum":-280}}}
 ]},
{"layer":[
  {"data":{"name":"cap7"},"mark":{"type":"text","fontSize":13.2,"align":"left","baseline":"middle"},
   "encoding":{"x":{"field":"col","type":"quantitative","scale":{"domain":[0,1],"range":[549,849],"nice":false,"zero":false},"axis":null},
               "y":{"field":"line","type":"quantitative","scale":{"domain":[1,18],"range":[752,978],"nice":false,"zero":false},"axis":null},"text":{"field":"text"}}},
  {"data":{"name":"cap7first"},"mark":{"type":"text","fontSize":13.2,"align":"left","baseline":"middle","dx":53},
   "encoding":{"x":{"field":"col","type":"quantitative","scale":{"domain":[0,1],"range":[549,849],"nice":false,"zero":false},"axis":null},
               "y":{"field":"line","type":"quantitative","scale":{"domain":[1,18],"range":[752,978],"nice":false,"zero":false},"axis":null},"text":{"field":"text"}}},
  {"data":{"name":"cap7first"},"mark":{"type":"text","fontSize":13.2,"align":"left","baseline":"middle","fontStyle":"italic"},
   "encoding":{"x":{"field":"col","type":"quantitative","scale":{"domain":[0,1],"range":[549,849],"nice":false,"zero":false},"axis":null},
               "y":{"field":"line","type":"quantitative","scale":{"domain":[1,18],"range":[752,978],"nice":false,"zero":false},"axis":null},"text":{"field":"lead"}}}
 ]},
{"data":{"name":"one"},
 "layer":[
  {"data":{"name":"fig7b"},"mark":{"type":"line","strokeWidth":2.5},
   "encoding":{"x":{"field":"t","type":"quantitative","scale":{"domain":[0,3.5,9.7,12],"range":[132.7,351.45,364.3,507.7],"nice":false,"zero":false},"axis":null},
               "y":{"field":"v","type":"quantitative","scale":{"domain":[0,300],"range":[934.3,862.3],"nice":false,"zero":false},"axis":null},"detail":{"field":"seg"}}},
  {"data":{"name":"fig7bcut"},"mark":{"type":"line","strokeWidth":2.2,"strokeDash":[1.5,2.2]},
   "encoding":{"x":{"field":"t","type":"quantitative","scale":{"domain":[0,3.5,9.7,12],"range":[132.7,351.45,364.3,507.7],"nice":false,"zero":false},"axis":null},
               "y":{"field":"v","type":"quantitative","scale":{"domain":[0,300],"range":[934.3,862.3],"nice":false,"zero":false},"axis":null}}},
  {"data":{"name":"fig7bticks"},"mark":{"type":"rule","strokeWidth":2},
   "encoding":{"x":{"datum":-0.454,"type":"quantitative","scale":{"domain":[0,3.5,9.7,12],"range":[132.7,351.45,364.3,507.7],"nice":false,"zero":false},"axis":null},"x2":{"datum":-0.32},
               "y":{"field":"v","type":"quantitative","scale":{"domain":[0,300],"range":[934.3,862.3],"nice":false,"zero":false},"axis":null}}},
  {"mark":{"type":"rule","strokeWidth":2},
   "encoding":{"x":{"datum":-0.454,"type":"quantitative","scale":{"domain":[0,3.5,9.7,12],"range":[132.7,351.45,364.3,507.7],"nice":false,"zero":false},"axis":null},
               "y":{"datum":0,"type":"quantitative","scale":{"domain":[0,300],"range":[934.3,862.3],"nice":false,"zero":false},"axis":null},"y2":{"datum":300}}},
  {"data":{"name":"fig7bticks"},"mark":{"type":"text","fontSize":9.5,"fontWeight":"bold","align":"right","baseline":"middle"},
   "encoding":{"x":{"datum":-0.54,"type":"quantitative","scale":{"domain":[0,3.5,9.7,12],"range":[132.7,351.45,364.3,507.7],"nice":false,"zero":false},"axis":null},
               "y":{"field":"v","type":"quantitative","scale":{"domain":[0,300],"range":[934.3,862.3],"nice":false,"zero":false},"axis":null},"text":{"field":"v","type":"quantitative"}}},
  {"mark":{"type":"text","text":"nM","fontSize":9,"fontWeight":"bold","align":"center","baseline":"middle"},
   "encoding":{"x":{"datum":-0.32,"type":"quantitative","scale":{"domain":[0,3.5,9.7,12],"range":[132.7,351.45,364.3,507.7],"nice":false,"zero":false},"axis":null},
               "y":{"datum":337,"type":"quantitative","scale":{"domain":[0,300],"range":[934.3,862.3],"nice":false,"zero":false},"axis":null}}},
  {"mark":{"type":"text","text":"b","fontSize":25,"fontWeight":"bold","align":"center","baseline":"middle"},
   "encoding":{"x":{"datum":-0.683,"type":"quantitative","scale":{"domain":[0,3.5,9.7,12],"range":[132.7,351.45,364.3,507.7],"nice":false,"zero":false},"axis":null},
               "y":{"datum":427,"type":"quantitative","scale":{"domain":[0,300],"range":[934.3,862.3],"nice":false,"zero":false},"axis":null}}},
  {"mark":{"type":"rule","strokeWidth":3},
   "encoding":{"x":{"datum":10.1,"type":"quantitative","scale":{"domain":[0,3.5,9.7,12],"range":[132.7,351.45,364.3,507.7],"nice":false,"zero":false},"axis":null},"x2":{"datum":12.02},
               "y":{"datum":226,"type":"quantitative","scale":{"domain":[0,300],"range":[934.3,862.3],"nice":false,"zero":false},"axis":null}}},
  {"mark":{"type":"text","text":"Ca²⁺ 2 mM","fontSize":12.5,"fontWeight":"bold","align":"center","baseline":"middle"},
   "encoding":{"x":{"datum":11.0,"type":"quantitative","scale":{"domain":[0,3.5,9.7,12],"range":[132.7,351.45,364.3,507.7],"nice":false,"zero":false},"axis":null},
               "y":{"datum":268,"type":"quantitative","scale":{"domain":[0,300],"range":[934.3,862.3],"nice":false,"zero":false},"axis":null}}},
  {"mark":{"type":"rule","strokeWidth":2.2},
   "encoding":{"x":{"datum":0.53,"type":"quantitative","scale":{"domain":[0,3.5,9.7,12],"range":[132.7,351.45,364.3,507.7],"nice":false,"zero":false},"axis":null},
               "y":{"datum":58,"type":"quantitative","scale":{"domain":[0,300],"range":[934.3,862.3],"nice":false,"zero":false},"axis":null},"y2":{"datum":-10}}},
  {"mark":{"type":"point","shape":"triangle-up","filled":true,"size":60,"opacity":1},
   "encoding":{"x":{"datum":0.53,"type":"quantitative","scale":{"domain":[0,3.5,9.7,12],"range":[132.7,351.45,364.3,507.7],"nice":false,"zero":false},"axis":null},
               "y":{"datum":60,"type":"quantitative","scale":{"domain":[0,300],"range":[934.3,862.3],"nice":false,"zero":false},"axis":null}}},
  {"mark":{"type":"text","text":"control","fontSize":12,"fontWeight":"bold","align":"center","baseline":"middle"},
   "encoding":{"x":{"datum":0.544,"type":"quantitative","scale":{"domain":[0,3.5,9.7,12],"range":[132.7,351.45,364.3,507.7],"nice":false,"zero":false},"axis":null},
               "y":{"datum":-68,"type":"quantitative","scale":{"domain":[0,300],"range":[934.3,862.3],"nice":false,"zero":false},"axis":null}}},
  {"data":{"name":"fig7xseg"},"mark":{"type":"rule","strokeWidth":1.6},
   "encoding":{"x":{"field":"t0","type":"quantitative","scale":{"domain":[0,3.5,9.7,12],"range":[132.7,351.45,364.3,507.7],"nice":false,"zero":false},"axis":null},"x2":{"field":"t1"},
               "y":{"datum":-156,"type":"quantitative","scale":{"domain":[0,300],"range":[934.3,862.3],"nice":false,"zero":false},"axis":null}}},
  {"data":{"name":"fig7xticks"},"mark":{"type":"rule","strokeWidth":1.6},
   "encoding":{"x":{"field":"t","type":"quantitative","scale":{"domain":[0,3.5,9.7,12],"range":[132.7,351.45,364.3,507.7],"nice":false,"zero":false},"axis":null},
               "y":{"datum":-156,"type":"quantitative","scale":{"domain":[0,300],"range":[934.3,862.3],"nice":false,"zero":false},"axis":null},"y2":{"datum":-121}}},
  {"data":{"name":"fig7xticks"},"mark":{"type":"text","fontSize":9,"fontWeight":"bold","align":"center","baseline":"middle"},
   "encoding":{"x":{"field":"t","type":"quantitative","scale":{"domain":[0,3.5,9.7,12],"range":[132.7,351.45,364.3,507.7],"nice":false,"zero":false},"axis":null},
               "y":{"datum":-195,"type":"quantitative","scale":{"domain":[0,300],"range":[934.3,862.3],"nice":false,"zero":false},"axis":null},"text":{"field":"t","type":"quantitative"}}},
  {"mark":{"type":"text","text":"min","fontSize":9.5,"fontWeight":"bold","align":"left","baseline":"middle"},
   "encoding":{"x":{"datum":12.26,"type":"quantitative","scale":{"domain":[0,3.5,9.7,12],"range":[132.7,351.45,364.3,507.7],"nice":false,"zero":false},"axis":null},
               "y":{"datum":-152,"type":"quantitative","scale":{"domain":[0,300],"range":[934.3,862.3],"nice":false,"zero":false},"axis":null}}},
  {"mark":{"type":"rule","strokeWidth":1.3,"strokeDash":[2,1.5]},
   "encoding":{"x":{"datum":5.21,"type":"quantitative","scale":{"domain":[0,3.5,9.7,12],"range":[132.7,351.45,364.3,507.7],"nice":false,"zero":false},"axis":null},"x2":{"datum":3.45},
               "y":{"datum":-117,"type":"quantitative","scale":{"domain":[0,300],"range":[934.3,862.3],"nice":false,"zero":false},"axis":null},"y2":{"datum":-207}}},
  {"mark":{"type":"rule","strokeWidth":1.3,"strokeDash":[2,1.5]},
   "encoding":{"x":{"datum":9.754,"type":"quantitative","scale":{"domain":[0,3.5,9.7,12],"range":[132.7,351.45,364.3,507.7],"nice":false,"zero":false},"axis":null},"x2":{"datum":7.96},
               "y":{"datum":-117,"type":"quantitative","scale":{"domain":[0,300],"range":[934.3,862.3],"nice":false,"zero":false},"axis":null},"y2":{"datum":-207}}}
 ]},
{"data":{"name":"footer"},
 "layer":[
  {"mark":{"type":"text","font":"Liberation Sans","fontWeight":"bold","fontSize":10.5,"align":"left","baseline":"middle"},
   "encoding":{"x":{"field":"col","type":"quantitative","scale":{"domain":[0,1],"range":[81,121],"nice":false,"zero":false},"axis":null},
               "y":{"field":"line","type":"quantitative","scale":{"domain":[0,1],"range":[0,1030],"nice":false,"zero":false},"axis":null},"text":{"field":"page"}}},
  {"mark":{"type":"text","fontStyle":"italic","fontSize":12,"align":"left","baseline":"middle","dx":39},
   "encoding":{"x":{"field":"col","type":"quantitative","scale":{"domain":[0,1],"range":[81,121],"nice":false,"zero":false},"axis":null},
               "y":{"field":"line","type":"quantitative","scale":{"domain":[0,1],"range":[0,1030],"nice":false,"zero":false},"axis":null},"text":{"field":"author"}}}
 ]}
],
"resolve":{"scale":{"x":"independent","y":"independent"}}
}
